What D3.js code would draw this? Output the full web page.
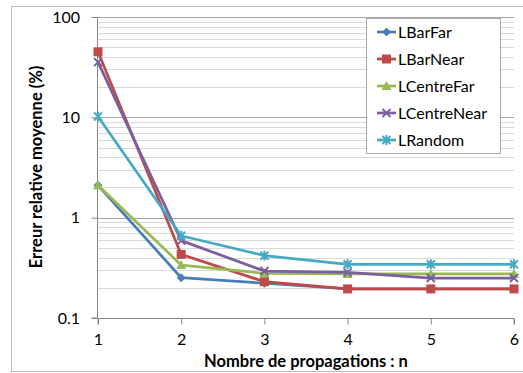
<!DOCTYPE html>
<html><head><meta charset="utf-8">
<script src="https://cdn.jsdelivr.net/npm/d3@7"></script>
<style>body{margin:0;background:#fff;} svg{display:block;font-family:Lato,"Liberation Sans",sans-serif;}</style>
</head><body>
<svg id="c" width="523" height="373"></svg>
<script>
const categories = [1, 2, 3, 4, 5, 6];
const seriesNames = ["LBarFar", "LBarNear", "LCentreFar", "LCentreNear", "LRandom"];
const LBarFar = [2.1, 0.252, 0.222, 0.195, 0.195, 0.195];
const LBarNear = [45, 0.43, 0.23, 0.195, 0.195, 0.195];
const LCentreFar = [2.1, 0.337, 0.279, 0.275, 0.275, 0.275];
const LCentreNear = [35.5, 0.59, 0.294, 0.285, 0.25, 0.25];
const LRandom = [10.2, 0.66, 0.418, 0.343, 0.343, 0.343];
const yTicks = [0.1, 1, 10, 100];
const yTickLabels = ["0.1", "1", "10", "100"];
const colors = ["#4A7EBB", "#BE4B48", "#98B954", "#7D5FA0", "#46AAC5"];
const markers = ["diamond", "square", "triangle", "x", "star"];
const values = [LBarFar, LBarNear, LCentreFar, LCentreNear, LRandom];

const svg = d3.select("#c");
svg.append("rect").attr("x", 11.5).attr("y", 6.5).attr("width", 520).attr("height", 365)
  .attr("fill", "#fff").attr("stroke", "#bfbfbf");

const x = d3.scaleLinear().domain([1, 6]).range([98, 514]);
const y = d3.scaleLog().domain([0.1, 100]).range([318, 17]);

// gridlines
const minor = [];
for (let d = 0.1; d < 100; d *= 10) for (let k = 2; k <= 9; k++) minor.push(d * k);
svg.append("g").selectAll("line").data(minor).join("line")
  .attr("x1", x(1)).attr("x2", x(6))
  .attr("y1", d => Math.round(y(d)) + 0.5).attr("y2", d => Math.round(y(d)) + 0.5)
  .attr("stroke", "#d9d9d9").attr("stroke-width", 1);
svg.append("g").selectAll("line").data(yTicks.slice(1)).join("line")
  .attr("x1", x(1)).attr("x2", x(6))
  .attr("y1", d => Math.round(y(d)) + 0.5).attr("y2", d => Math.round(y(d)) + 0.5)
  .attr("stroke", "#a6a6a6").attr("stroke-width", 1);

// axes
const yAxis = d3.axisLeft(y).tickValues(yTicks).tickFormat((d, i) => yTickLabels[i]).tickSize(6).tickPadding(11.5);
const gy = svg.append("g").attr("transform", `translate(${x(1) - 0.5},0)`).call(yAxis);
gy.select(".domain").attr("stroke", "#868686").attr("d", `M-6,${y(0.1)}H0V${y(100)}`);
gy.selectAll(".tick line").attr("stroke", "#868686");
gy.selectAll(".tick text").attr("font-size", 16).attr("fill", "#000").attr("font-family", "Lato,sans-serif");

const xAxis = d3.axisBottom(x).tickValues(categories).tickFormat(d3.format("d")).tickSize(6).tickPadding(9.5);
const gx = svg.append("g").attr("transform", `translate(0,${y(0.1) + 0.5})`).call(xAxis);
gx.select(".domain").attr("stroke", "#868686").attr("d", `M${x(1)},6V0H${x(6)}V6`);
gx.selectAll(".tick line").attr("stroke", "#868686");
gx.selectAll(".tick text").attr("font-size", 16).attr("fill", "#000").attr("font-family", "Lato,sans-serif");

// axis titles
svg.append("text").attr("x", 306).attr("y", 367).attr("text-anchor", "middle")
  .attr("font-size", 16.5).attr("font-weight", "bold").text("Nombre de propagations : n");
svg.append("text").attr("transform", "translate(42,167) rotate(-90)").attr("text-anchor", "middle")
  .attr("font-size", 16.5).attr("font-weight", "bold").text("Erreur relative moyenne (%)");

function drawMarker(g, type, color, cx, cy) {
  if (type === "diamond") {
    g.append("path").attr("d", `M${cx},${cy-4.5}L${cx+4.5},${cy}L${cx},${cy+4.5}L${cx-4.5},${cy}Z`).attr("fill", color);
  } else if (type === "square") {
    g.append("rect").attr("x", cx - 4.5).attr("y", cy - 4.5).attr("width", 9).attr("height", 9).attr("fill", color);
  } else if (type === "triangle") {
    g.append("path").attr("d", `M${cx},${cy-5}L${cx+5},${cy+4}L${cx-5},${cy+4}Z`).attr("fill", color);
  } else if (type === "x") {
    g.append("path").attr("d", `M${cx-4},${cy-4}L${cx+4},${cy+4}M${cx+4},${cy-4}L${cx-4},${cy+4}`).attr("stroke", color).attr("stroke-width", 2);
  } else if (type === "star") {
    g.append("path").attr("d", `M${cx-4},${cy-4}L${cx+4},${cy+4}M${cx+4},${cy-4}L${cx-4},${cy+4}M${cx},${cy-5}V${cy+5}`).attr("stroke", color).attr("stroke-width", 2);
  }
}

const line = d3.line().x((d, i) => x(categories[i])).y(d => y(d));
values.forEach((vals, s) => {
  const g = svg.append("g");
  g.append("path").attr("d", line(vals)).attr("fill", "none").attr("stroke", colors[s])
    .attr("stroke-width", 2.75).attr("stroke-linejoin", "round");
  vals.forEach((v, i) => drawMarker(g, markers[s], colors[s], x(categories[i]), y(v)));
});

// legend
const lg = svg.append("g");
lg.append("rect").attr("x", 366.5).attr("y", 18.5).attr("width", 134).attr("height", 135)
  .attr("fill", "#fff").attr("stroke", "#555").attr("stroke-dasharray", "1,1");
seriesNames.forEach((n, i) => {
  const cy = 32 + i * 27;
  lg.append("line").attr("x1", 377).attr("x2", 396).attr("y1", cy).attr("y2", cy)
    .attr("stroke", colors[i]).attr("stroke-width", 2.75);
  drawMarker(lg, markers[i], colors[i], 386.5, cy);
  lg.append("text").attr("x", 398).attr("y", cy + 5.5).attr("font-size", 16).text(n);
});
</script>
</body></html>
